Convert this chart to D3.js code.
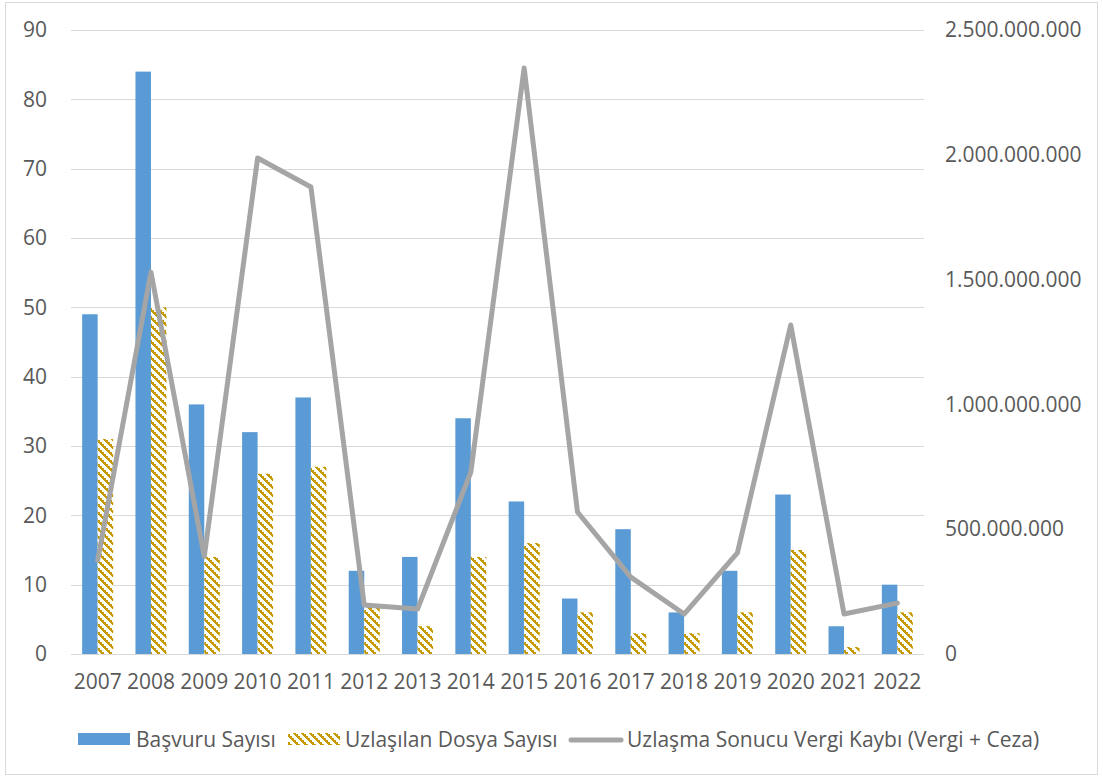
<!DOCTYPE html>
<html>
<head>
<meta charset="utf-8">
<script src="https://cdn.jsdelivr.net/npm/d3@7"></script>
<style>
  html, body { margin: 0; padding: 0; background: #fff; }
  svg { display: block; font-family: "Open Sans", sans-serif; }
</style>
</head>
<body>
<svg id="chart" width="1103" height="778"></svg>
<script>
// Yearly figures
const years = ["2007","2008","2009","2010","2011","2012","2013","2014","2015","2016","2017","2018","2019","2020","2021","2022"];
const basvuru = [49, 84, 36, 32, 37, 12, 14, 34, 22, 8, 18, 6, 12, 23, 4, 10];
const uzlasilan = [31, 50, 14, 26, 27, 7, 4, 14, 16, 6, 3, 3, 6, 15, 1, 6];
const vergiKaybi = [375e6, 1530e6, 390e6, 1987e6, 1871e6, 196e6, 180e6, 729e6, 2348e6, 569e6, 308e6, 160e6, 405e6, 1318e6, 160e6, 204e6];

const leftTicks = [0, 10, 20, 30, 40, 50, 60, 70, 80, 90];
const rightTicks = [0, 500e6, 1000e6, 1500e6, 2000e6, 2500e6];

const seriesNames = ["Başvuru Sayısı", "Uzlaşılan Dosya Sayısı", "Uzlaşma Sonucu Vergi Kaybı (Vergi + Ceza)"];

const svg = d3.select("#chart");
const textColor = "#595959";
const blue = "#5b9bd5";
const gold = "#c49a00";
const gray = "#a5a5a5";
const fontFam = "'Open Sans', sans-serif";
const fontSize = 21;

// Chart frame
svg.append("rect")
  .attr("x", 5.5).attr("y", 2.5).attr("width", 1092).attr("height", 772)
  .attr("fill", "#fff").attr("stroke", "#d9d9d9").attr("stroke-width", 1);

// Diagonal hatch fill
const defs = svg.append("defs");
const pat = defs.append("pattern")
  .attr("id", "hatch").attr("patternUnits", "userSpaceOnUse")
  .attr("width", 8).attr("height", 8);
pat.append("rect").attr("width", 8).attr("height", 8).attr("fill", "#fff");
for (let r = 0; r < 8; r++) {
  for (let k = 0; k < 4; k++) {
    if (k === 3 && r % 2 === 1) continue;
    pat.append("rect")
      .attr("x", (r + k) % 8).attr("y", r)
      .attr("width", 1).attr("height", 1)
      .attr("fill", gold);
  }
}

const plot = { left: 71, right: 924, top: 30, bottom: 654 };

const x = d3.scaleBand().domain(years).range([plot.left, plot.right]).paddingInner(0).paddingOuter(0);
const yL = d3.scaleLinear().domain([0, 90]).range([plot.bottom, plot.top]);
const yR = d3.scaleLinear().domain([0, 2500e6]).range([plot.bottom, plot.top]);

// Gridlines
svg.append("g").selectAll("line").data(leftTicks).join("line")
  .attr("x1", plot.left).attr("x2", plot.right)
  .attr("y1", d => Math.round(yL(d)) + 0.5).attr("y2", d => Math.round(yL(d)) + 0.5)
  .attr("stroke", "#d9d9d9").attr("stroke-width", 1);

const styleText = g => g.selectAll("text")
  .attr("fill", textColor).attr("font-size", fontSize).attr("font-family", fontFam);

// Left axis labels
const fmtR = d3.formatLocale({ decimal: ",", thousands: ".", grouping: [3], currency: ["", ""] }).format(",.0f");
const axisL = d3.axisLeft(yL).tickValues(leftTicks).tickSize(0).tickPadding(0);
const gL = svg.append("g").attr("transform", `translate(47,0)`).call(axisL);
gL.select(".domain").remove();
styleText(gL);

// Right axis labels
const axisR = d3.axisRight(yR).tickValues(rightTicks).tickSize(0).tickPadding(0).tickFormat(fmtR);
const gR = svg.append("g").attr("transform", `translate(945,0)`).call(axisR);
gR.select(".domain").remove();
styleText(gR);

// Category axis labels
const axisB = d3.axisBottom(x).tickSize(0).tickPadding(0);
const gB = svg.append("g").attr("transform", `translate(0,${plot.bottom + 20})`).call(axisB);
gB.select(".domain").remove();
styleText(gB);

// Bars
const barW = 15.5;
const bars = svg.append("g");
bars.selectAll("rect.b1").data(years).join("rect")
  .attr("class", "b1")
  .attr("x", d => x(d) + x.bandwidth() / 2 - barW)
  .attr("width", barW)
  .attr("y", (d, i) => yL(basvuru[i]))
  .attr("height", (d, i) => yL(0) - yL(basvuru[i]))
  .attr("fill", blue);
bars.selectAll("rect.b2").data(years).join("rect")
  .attr("class", "b2")
  .attr("x", d => x(d) + x.bandwidth() / 2)
  .attr("width", barW)
  .attr("y", (d, i) => yL(uzlasilan[i]))
  .attr("height", (d, i) => yL(0) - yL(uzlasilan[i]))
  .attr("fill", "url(#hatch)");

// Axis baseline
svg.append("line")
  .attr("x1", plot.left).attr("x2", plot.right)
  .attr("y1", plot.bottom + 0.5).attr("y2", plot.bottom + 0.5)
  .attr("stroke", "#d9d9d9").attr("stroke-width", 1);

// Line on secondary axis
const line = d3.line()
  .x((d, i) => x(years[i]) + x.bandwidth() / 2)
  .y(d => yR(d));
svg.append("path").datum(vergiKaybi)
  .attr("d", line)
  .attr("fill", "none").attr("stroke", gray).attr("stroke-width", 5)
  .attr("stroke-linejoin", "round").attr("stroke-linecap", "round");

// Legend
const lg = svg.append("g").attr("font-family", fontFam).attr("font-size", fontSize).attr("fill", textColor);
lg.append("rect").attr("x", 78).attr("y", 733).attr("width", 52).attr("height", 12).attr("fill", blue);
lg.append("text").attr("x", 136).attr("y", 747).text(seriesNames[0]);
lg.append("rect").attr("x", 288).attr("y", 733).attr("width", 52).attr("height", 12).attr("fill", "url(#hatch)");
lg.append("text").attr("x", 345).attr("y", 747).text(seriesNames[1]);
lg.append("line").attr("x1", 571).attr("x2", 621).attr("y1", 740).attr("y2", 740)
  .attr("stroke", gray).attr("stroke-width", 5).attr("stroke-linecap", "round");
lg.append("text").attr("x", 627).attr("y", 747).text(seriesNames[2]);
</script>
</body>
</html>
